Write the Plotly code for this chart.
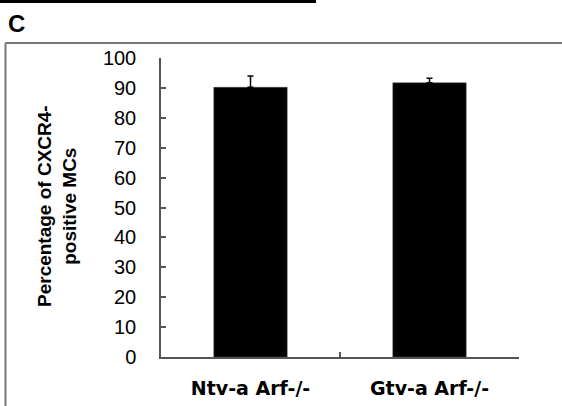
import plotly.graph_objects as go

categories = ["Ntv-a Arf-/-", "Gtv-a Arf-/-"]
values = [90.2, 91.7]
errors = [3.8, 1.5]
y_ticks = [0, 10, 20, 30, 40, 50, 60, 70, 80, 90, 100]
y_title = "Percentage of CXCR4-<br>positive MCs"
panel_label = "C"

W, H = 562, 406
L, R, T, B = 161, 43, 58, 49
pw, ph = W - L - R, H - T - B

def px(x):
    return (x - L) / pw

def py(y):
    return (H - B - y) / ph

fig = go.Figure()
fig.add_trace(go.Bar(
    x=categories, y=values,
    marker=dict(color="black", line=dict(color="#444", width=0.5)),
    width=0.41,
    error_y=dict(type="data", array=errors, arrayminus=[0, 0], symmetric=False,
                 color="black", thickness=1.5, width=3),
))

fig.update_layout(
    width=W, height=H,
    margin=dict(l=L, r=R, t=T, b=B, autoexpand=False),
    paper_bgcolor="white", plot_bgcolor="white",
    showlegend=False,
    font=dict(family="Liberation Sans, Arial, sans-serif", color="black"),
    xaxis=dict(
        type="category", showline=True, linecolor="#555", linewidth=1.5,
        ticks="inside", tickson="boundaries", ticklen=5, tickcolor="#555", tickwidth=1.5,
        tickfont=dict(size=19, family="DejaVu Sans, sans-serif", weight="bold"),
        ticklabelstandoff=13, automargin=False,
        showgrid=False, zeroline=False,
    ),
    yaxis=dict(
        range=[0, 100], tickvals=y_ticks, showline=True, linecolor="#555", linewidth=1.5,
        ticks="inside", ticklen=5, tickcolor="#555", tickwidth=1.5,
        tickfont=dict(size=20), ticklabelstandoff=19, automargin=False,
        showgrid=False, zeroline=False,
    ),
    shapes=[
        dict(type="line", xref="paper", yref="paper", x0=px(0), x1=px(316), y0=py(1.5), y1=py(1.5),
             line=dict(color="black", width=3)),
        dict(type="line", xref="paper", yref="paper", x0=px(5.5), x1=px(5.5), y0=py(43), y1=py(410),
             line=dict(color="#777", width=2)),
        dict(type="line", xref="paper", yref="paper", x0=px(5.5), x1=px(570), y0=py(43), y1=py(43),
             line=dict(color="#777", width=2)),
    ],
    annotations=[
        dict(text="<b>" + panel_label + "</b>", xref="paper", yref="paper", x=px(6), y=py(23),
             xanchor="left", yanchor="middle", showarrow=False, font=dict(size=24)),
        dict(text="<b>" + y_title + "</b>", xref="paper", yref="paper", x=px(57), y=py(206),
             xanchor="center", yanchor="middle", textangle=-90, showarrow=False, font=dict(size=19)),
    ],
)

fig.write_html("out.html", config={"displayModeBar": False},
               post_script="document.body.style.margin='0';document.body.style.overflow='hidden';")
